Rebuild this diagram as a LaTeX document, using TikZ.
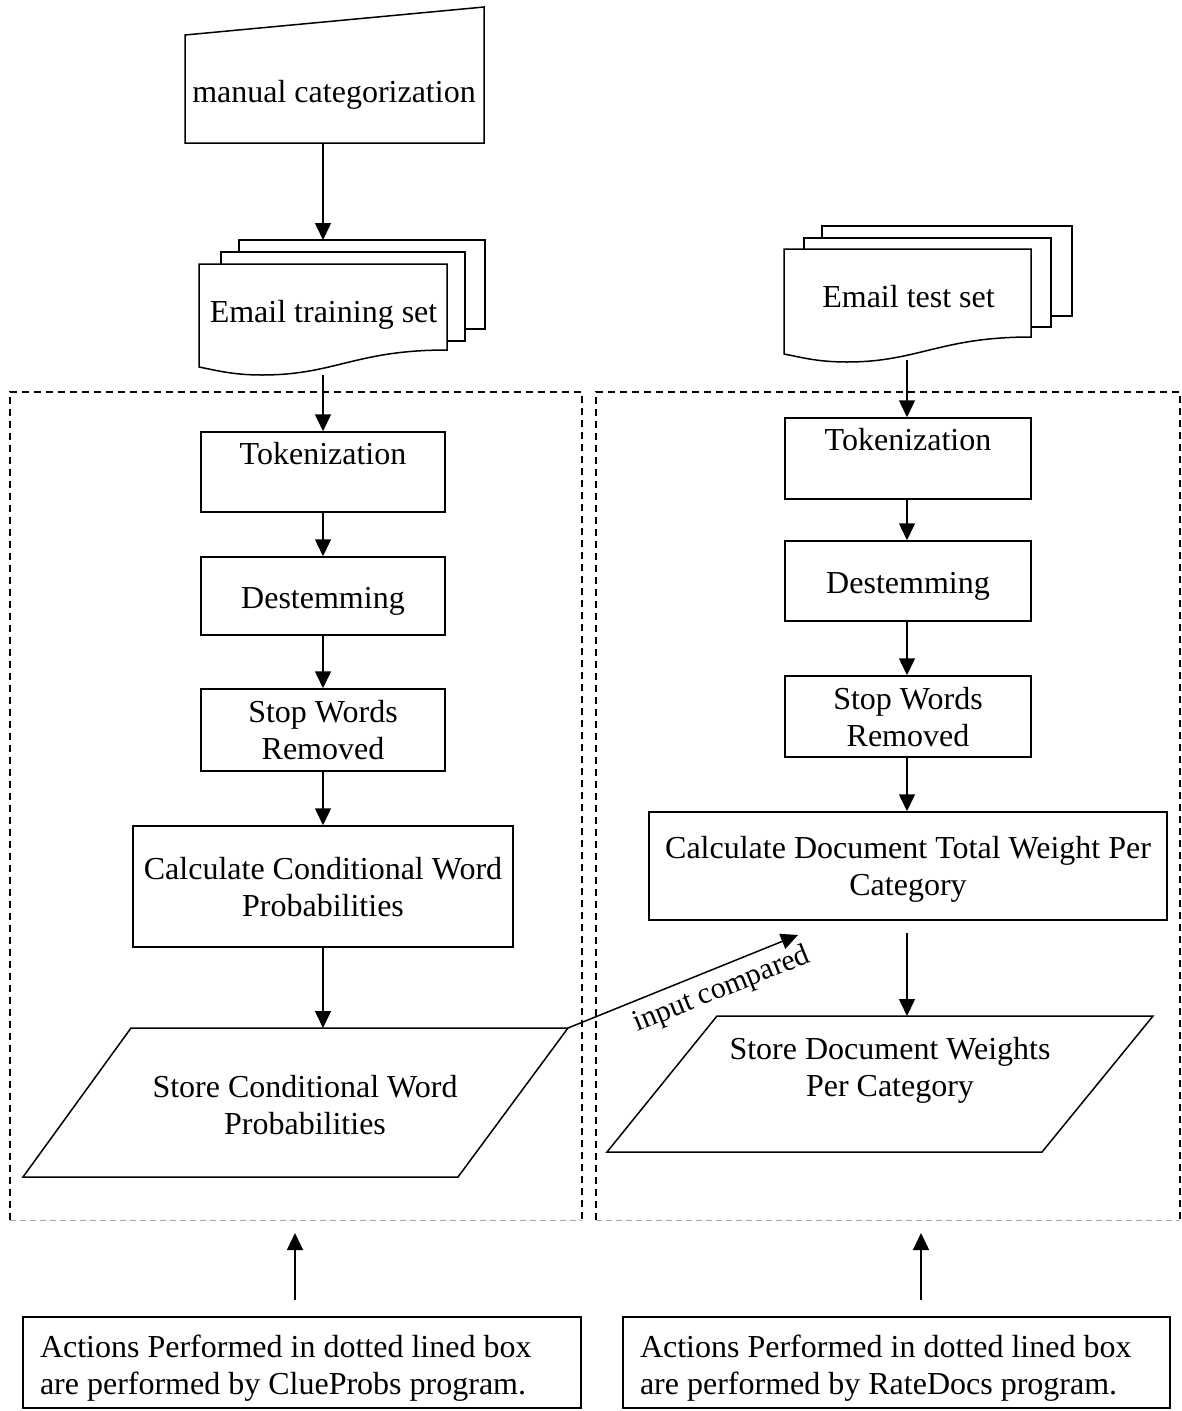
\documentclass[tikz,border=0pt]{standalone}
\usepackage{fontspec}
\setmainfont{Liberation Serif}
\usetikzlibrary{arrows.meta}
\newcommand{\topstrut}{\rule{0pt}{35pt}}
\newcommand{\botstrut}{\rule[-10.2pt]{0pt}{10.2pt}}
\begin{document}
\begin{tikzpicture}[x=1pt,y=-1pt, line width=1.5pt,
  txt/.style={font=\fontsize{32}{37}\selectfont, align=center, inner sep=0pt,
    execute at begin node={\topstrut}, execute at end node={\botstrut}},
  ltxt/.style={txt, align=left},
  box/.style={draw, txt},
  frame/.style={draw, inner sep=0pt},
  arr/.style={-{Triangle[length=17pt,width=16pt]}, line width=1.5pt},
  dashbox/.style={dash pattern=on 7pt off 5pt, line width=1.5pt},
  dashbot/.style={dash pattern=on 6pt off 4pt, line width=1pt, draw=gray!70}
]
\useasboundingbox (0,0) rectangle (1182,1411);

% ---------- manual input ----------
\draw (185,35) -- (484,7) -- (484,143) -- (185,143) -- cycle;
\node[txt] (mc) at (334,90) {manual categorization};
\coordinate (mcB) at (323,143);

% ---------- training set documents ----------
\draw[fill=white] (239,240) rectangle (485,329);
\draw[fill=white] (221,252) rectangle (465,341);
\draw[fill=white] (199,264) -- (447,264) -- (447,350)
  .. controls (355,350) and (335,375) .. (262,375)
  .. controls (232,375) and (215,370) .. (199,367) -- cycle;
\node[txt] (trs) at (323.5,310.5) {Email training set};
\coordinate (trTop) at (323,240);
\coordinate (trB) at (323,375);

% ---------- test set documents ----------
\draw[fill=white] (822,226) rectangle (1072,316);
\draw[fill=white] (804,238) rectangle (1051,327);
\draw[fill=white] (784,249) -- (1031,249) -- (1031,337)
  .. controls (940,337) and (918,362) .. (847,362)
  .. controls (817,362) and (800,357) .. (784,354) -- cycle;
\node[txt] (tes) at (908.5,295.5) {Email test set};
\coordinate (teB) at (907,360);

% ---------- dashed program boxes ----------
\draw[dashbox] (10,1220) -- (10,392) -- (582,392) -- (582,1220);
\draw[dashbot] (10,1220) -- (582,1220);
\draw[dashbox] (596,1220) -- (596,392) -- (1180,392) -- (1180,1220);
\draw[dashbot] (596,1220) -- (1180,1220);

% ---------- left column ----------
\node[frame, minimum width=244pt, minimum height=80pt,
  label={[txt,yshift=19.5pt]center:Tokenization}] (tokL) at (323,472) {};
\node[box, minimum width=244pt, minimum height=78pt] (destL) at (323,596) {Destemming};
\node[frame, minimum width=244pt, minimum height=82pt,
  label={[txt,yshift=-5pt]center:Stop Words\\Removed}] (stopL) at (323,730) {};
\node[frame, minimum width=380pt, minimum height=121pt,
  label={[txt,yshift=-5pt]center:Calculate Conditional Word\\Probabilities}] (calcL) at (323,886.5) {};
\draw (131,1028) -- (568,1028) -- (458,1177) -- (23,1177) -- cycle;
\node[txt] (storeL) at (305,1110) {Store Conditional Word\\Probabilities};
\coordinate (storeLtop) at (323,1028);
\coordinate (storeLtr) at (568,1028);

% ---------- right column ----------
\node[frame, minimum width=246pt, minimum height=81pt,
  label={[txt,yshift=20pt]center:Tokenization}] (tokR) at (908,458.5) {};
\node[box, minimum width=246pt, minimum height=80pt] (destR) at (908,581) {Destemming};
\node[frame, minimum width=246pt, minimum height=81pt,
  label={[txt,yshift=-5pt]center:Stop Words\\Removed}] (stopR) at (908,716.5) {};
\node[frame, minimum width=518pt, minimum height=108pt,
  label={[txt,yshift=-5pt]center:Calculate Document Total Weight Per\\Category}] (calcR) at (908,866) {};
\coordinate (calcRb) at (907,933);
\draw (717,1016) -- (1153,1016) -- (1042,1152) -- (607,1152) -- cycle;
\node[txt] (storeR) at (890,1072) {Store Document Weights\\Per Category};
\coordinate (storeRtop) at (907,1016);
\coordinate (icEnd) at (798,935);

% ---------- arrows ----------
\draw[arr] (mcB) -- (trTop);
\draw[arr] (trB) -- (tokL.north);
\draw[arr] (tokL.south) -- (destL.north);
\draw[arr] (destL.south) -- (stopL.north);
\draw[arr] (stopL.south) -- (calcL.north);
\draw[arr] (calcL.south) -- (storeLtop);

\draw[arr] (teB) -- (tokR.north -| teB);
\draw[arr] (tokR.south -| teB) -- (destR.north -| teB);
\draw[arr] (destR.south -| teB) -- (stopR.north -| teB);
\draw[arr] (stopR.south -| teB) -- (calcR.north -| teB);
\draw[arr] (calcRb) -- (storeRtop);

\draw[arr] (storeLtr) -- (icEnd);
\node[font=\fontsize{30}{35}\selectfont, inner sep=0pt, rotate=22] (icLbl) at (722,990) {input compared};

% ---------- notes ----------
\node[frame, minimum width=558pt, minimum height=91pt,
  label={[ltxt, anchor=west, xshift=17pt, yshift=-7pt]west:Actions Performed in dotted lined box\\are performed by ClueProbs program.}] (noteL) at (302,1362.5) {};
\node[frame, minimum width=547pt, minimum height=91pt,
  label={[ltxt, anchor=west, xshift=17pt, yshift=-7pt]west:Actions Performed in dotted lined box\\are performed by RateDocs program.}] (noteR) at (896.5,1362.5) {};
\coordinate (upL0) at (295,1300);
\coordinate (upL1) at (295,1233);
\coordinate (upR0) at (921,1300);
\coordinate (upR1) at (921,1233);
\draw[arr] (upL0) -- (upL1);
\draw[arr] (upR0) -- (upR1);
\end{tikzpicture}
\end{document}
